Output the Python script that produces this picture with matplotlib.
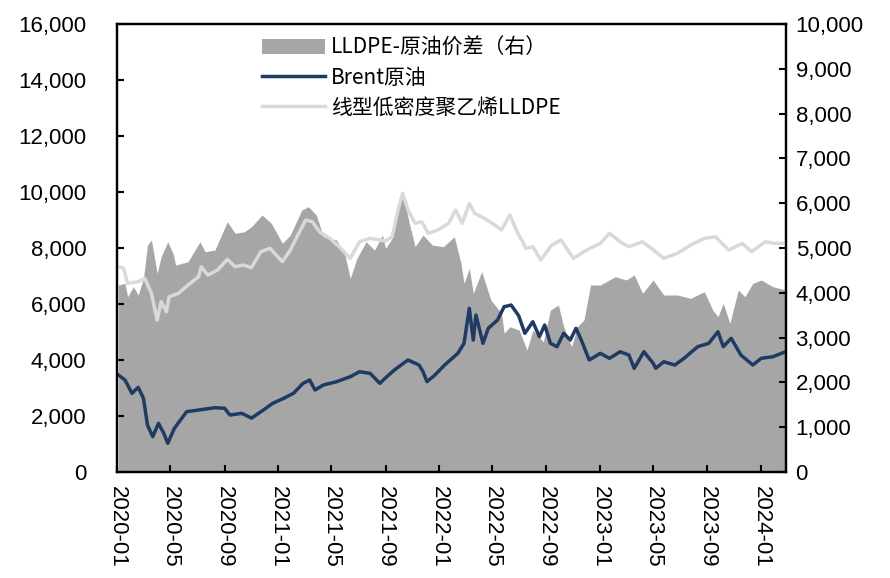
import matplotlib
matplotlib.use("Agg")
import matplotlib.pyplot as plt
import matplotlib.patches as mpatches
import matplotlib.lines as mlines
import pandas as pd

plt.rcParams['font.family'] = ['Liberation Sans', 'Noto Sans CJK SC', 'DejaVu Sans']

# ---- Brent crude (left axis) ----
brent_dates = ["2020-01-04","2020-01-19","2020-02-04","2020-02-18","2020-03-01","2020-03-10",
    "2020-03-22","2020-04-04","2020-04-16","2020-04-25","2020-05-10","2020-05-25","2020-06-07",
    "2020-07-04","2020-08-10","2020-09-01","2020-09-13","2020-10-10","2020-11-01","2020-11-28",
    "2020-12-19","2021-01-13","2021-02-04","2021-02-26","2021-03-13","2021-03-25","2021-04-13",
    "2021-05-13","2021-06-13","2021-07-04","2021-07-28","2021-08-19","2021-09-04","2021-09-21",
    "2021-10-22","2021-11-16","2021-11-25","2021-12-04","2021-12-22","2022-01-13","2022-02-12",
    "2022-02-26","2022-03-10","2022-03-19","2022-03-25","2022-04-10","2022-04-22","2022-05-13",
    "2022-05-28","2022-06-13","2022-06-30","2022-07-14","2022-08-01","2022-08-16","2022-08-28",
    "2022-09-10","2022-09-25","2022-10-10","2022-10-25","2022-11-07","2022-11-19","2022-12-07",
    "2023-01-01","2023-01-22","2023-02-15","2023-03-07","2023-03-19","2023-04-10","2023-05-01",
    "2023-05-07","2023-05-25","2023-06-19","2023-07-10","2023-08-10","2023-09-04","2023-09-25",
    "2023-10-07","2023-10-25","2023-11-16","2023-12-13","2024-01-01","2024-01-28","2024-02-25"]
brent_values = [3464,3286,2810,3024,2631,1678,1262,1738,1381,1024,1559,1881,2155,2214,2297,2274,
    2035,2095,1925,2214,2453,2631,2810,3167,3285,2928,3107,3226,3404,3582,3524,3167,3404,3643,
    4000,3821,3582,3226,3464,3821,4239,4596,5846,4714,5607,4596,5131,5428,5903,5964,5580,4953,
    5368,4832,5250,4596,4475,4953,4714,5131,4714,4000,4239,4060,4296,4178,3703,4296,3882,3703,
    3939,3821,4060,4475,4596,5010,4475,4775,4178,3821,4060,4118,4296]

# ---- LLDPE (left axis) ----
lldpe_dates = ["2020-01-04","2020-01-16","2020-01-25","2020-02-18","2020-03-04","2020-03-19",
    "2020-04-01","2020-04-10","2020-04-22","2020-04-28","2020-05-19","2020-06-10","2020-07-04",
    "2020-07-10","2020-07-25","2020-08-16","2020-09-07","2020-09-25","2020-10-13","2020-11-01",
    "2020-11-22","2020-12-13","2021-01-10","2021-01-28","2021-02-18","2021-03-04","2021-03-19",
    "2021-04-04","2021-04-28","2021-05-19","2021-06-13","2021-07-04","2021-07-28","2021-08-19",
    "2021-09-01","2021-09-16","2021-10-01","2021-10-10","2021-10-22","2021-11-07","2021-11-22",
    "2021-12-07","2021-12-28","2022-01-22","2022-02-07","2022-02-22","2022-03-10","2022-03-22",
    "2022-04-13","2022-05-07","2022-05-22","2022-06-10","2022-06-28","2022-07-10","2022-07-16",
    "2022-08-01","2022-08-19","2022-09-13","2022-10-04","2022-11-01","2022-12-01","2023-01-01",
    "2023-01-22","2023-02-15","2023-03-07","2023-04-07","2023-05-04","2023-05-25","2023-06-25",
    "2023-07-25","2023-08-25","2023-09-19","2023-10-19","2023-11-19","2023-12-10","2024-01-10",
    "2024-02-01","2024-02-25"]
lldpe_values = [7332,7274,6739,6796,6917,6381,5428,6082,5725,6260,6381,6678,6974,7332,7035,7213,
    7595,7332,7392,7300,7867,7988,7510,7928,8581,8999,8939,8581,8345,8045,7631,8224,8345,8285,
    8250,8404,9474,9952,9356,8881,8939,8524,8642,8881,9356,8881,9595,9238,9060,8820,8642,9178,
    8524,8200,7988,8045,7570,8106,8285,7631,7928,8167,8524,8224,8045,8224,7900,7631,7810,8106,
    8345,8404,7928,8167,7867,8224,8167,8167]

# ---- LLDPE - crude spread (right axis) ----
spread_dates = ["2020-01-04","2020-01-19","2020-01-25","2020-02-07","2020-02-18","2020-03-01",
    "2020-03-10","2020-03-19","2020-04-01","2020-04-10","2020-04-25","2020-05-07","2020-05-13",
    "2020-06-10","2020-07-07","2020-07-19","2020-08-10","2020-09-07","2020-09-25","2020-10-16",
    "2020-11-01","2020-11-25","2020-12-16","2021-01-10","2021-01-28","2021-02-23","2021-03-10",
    "2021-03-28","2021-04-13","2021-05-13","2021-06-01","2021-06-13","2021-06-28","2021-07-19",
    "2021-08-07","2021-08-25","2021-09-01","2021-09-16","2021-10-01","2021-10-10","2021-10-25",
    "2021-11-07","2021-11-25","2021-12-16","2022-01-10","2022-02-04","2022-02-19","2022-02-26",
    "2022-03-10","2022-03-19","2022-04-07","2022-04-28","2022-05-22","2022-05-28","2022-06-10",
    "2022-07-01","2022-07-19","2022-08-01","2022-08-25","2022-09-10","2022-09-28","2022-10-10",
    "2022-10-28","2022-11-10","2022-11-25","2022-12-10","2023-01-01","2023-02-04","2023-03-01",
    "2023-03-19","2023-04-07","2023-05-01","2023-05-25","2023-06-25","2023-07-25","2023-08-25",
    "2023-09-13","2023-09-25","2023-10-07","2023-10-22","2023-11-10","2023-11-25","2023-12-13",
    "2024-01-01","2024-01-28","2024-02-25"]
spread_values = [4174,4212,3913,4136,3951,4323,5067,5178,4435,4806,5140,4881,4620,4694,5140,4917,
    4955,5587,5328,5364,5476,5736,5551,5104,5290,5848,5922,5736,5252,5178,4843,4323,4770,5140,
    4955,5290,4993,5216,5848,6221,5551,5029,5290,5067,5029,5252,4658,4212,4547,3989,4471,3839,
    3542,3096,3243,3169,2723,3169,2908,3616,3727,3243,2797,3243,3393,4174,4174,4360,4286,4397,
    3989,4286,3951,3951,3877,4025,3616,3467,3765,3319,4062,3913,4212,4286,4136,4062]

tick_labels = ["2020-01","2020-05","2020-09","2021-01","2021-05","2021-09","2022-01",
               "2022-05","2022-09","2023-01","2023-05","2023-09","2024-01"]

legend_labels = ["LLDPE-原油价差（右）", "Brent原油", "线型低密度聚乙烯LLDPE"]

bd = pd.to_datetime(brent_dates)
ld = pd.to_datetime(lldpe_dates)
sd = pd.to_datetime(spread_dates)
td = pd.to_datetime([t + "-01" for t in tick_labels])

fig = plt.figure(figsize=(8.9, 5.78), dpi=100)
ax = fig.add_axes([0.1315, 0.1834, 0.7515, 0.775])
ax2 = ax.twinx()

area_color = "#A6A6A6"
brent_color = "#1F3B63"
lldpe_color = "#D9D9D9"

ax2.fill_between(sd, spread_values, 0, color=area_color, linewidth=0)
ax.plot(ld, lldpe_values, color=lldpe_color, lw=2.5)
ax.plot(bd, brent_values, color=brent_color, lw=2.5)

ax.set_zorder(ax2.get_zorder() + 1)
ax.patch.set_visible(False)

ax.set_xlim(pd.Timestamp("2020-01-01"), pd.Timestamp("2024-02-26"))
ax.set_ylim(0, 16000)
ax2.set_ylim(0, 10000)
ax.set_yticks(range(0, 16001, 2000))
ax2.set_yticks(range(0, 10001, 1000))
fmt = matplotlib.ticker.FuncFormatter(lambda v, p: f"{int(v):,}")
ax.yaxis.set_major_formatter(fmt)
ax2.yaxis.set_major_formatter(fmt)

ax.set_xticks(td)
ax.set_xticklabels(tick_labels, rotation=-90)

for a in (ax, ax2):
    for s in a.spines.values():
        s.set_linewidth(1.6)
        s.set_color("black")
ax.tick_params(axis='both', direction='in', length=5, width=1.5, labelsize=16, colors='black')
ax.tick_params(axis='y', pad=22)
ax.tick_params(axis='x', pad=10)
ax2.tick_params(axis='y', direction='in', length=5, width=1.5, labelsize=16, pad=7)

handles = [mpatches.Patch(color=area_color, linewidth=0),
           mlines.Line2D([], [], color=brent_color, lw=2.5),
           mlines.Line2D([], [], color=lldpe_color, lw=2.5)]
ax.legend(handles, legend_labels, loc='upper left', bbox_to_anchor=(0.205, 0.99),
          frameon=False, handlelength=3.0, handletextpad=0.3,
          labelspacing=0.38, borderaxespad=0.0,
          prop={'family': ['Noto Sans CJK SC', 'DejaVu Sans'], 'size': 15})

fig.savefig("out.png", dpi=100)
